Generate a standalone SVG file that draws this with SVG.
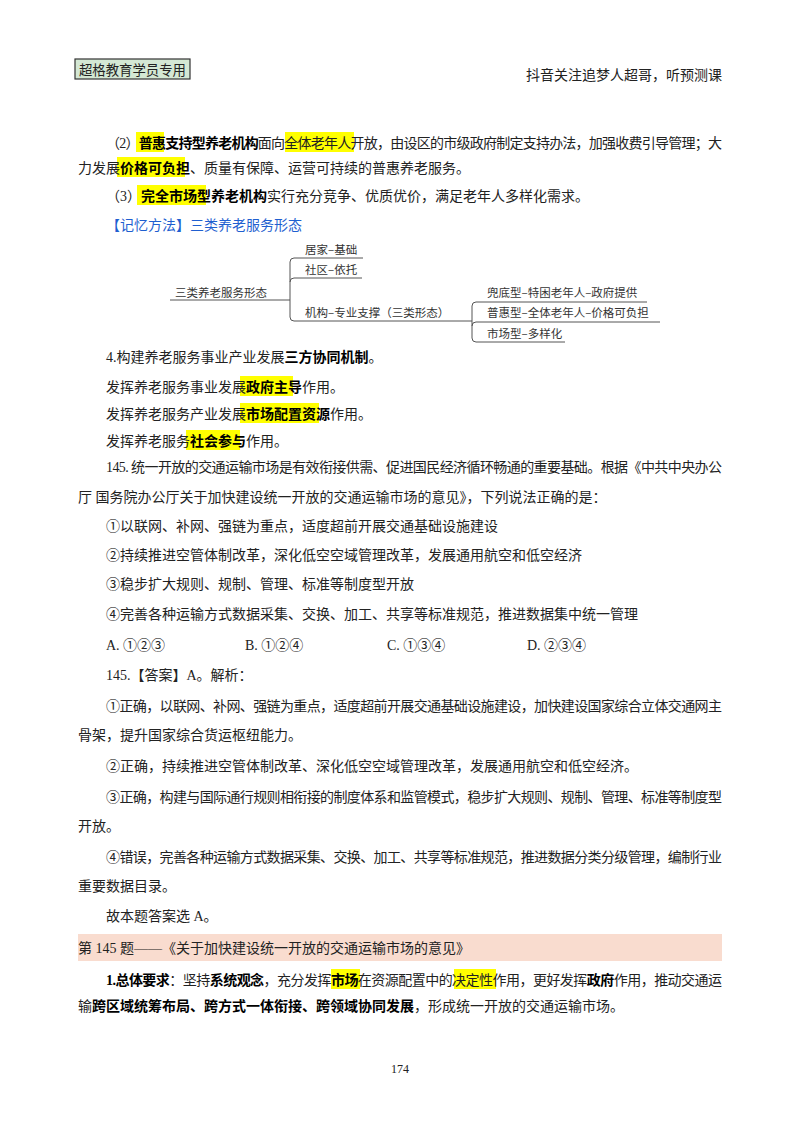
<svg xmlns="http://www.w3.org/2000/svg" width="800" height="1132" viewBox="0 0 800 1132">
<style>
text{font-family:"Liberation Serif","Noto Sans CJK SC",serif;font-size:14px;fill:#222}
.b{font-weight:bold;fill:#000}
.hl{fill:#ffff00}
.mm{font-family:"Noto Sans CJK SC","Liberation Sans",sans-serif;font-size:11.5px;fill:#333}
.ln{stroke:#555;stroke-width:1;fill:none}
.blue{fill:#1f5fd0}
</style>
<rect width="800" height="1132" fill="#fff"/>
<g id="header">
<rect x="75" y="59" width="115" height="20" fill="#d4e8d4" stroke="#333" stroke-width="1.2"/>
<text x="79" y="75" textLength="107" lengthAdjust="spacingAndGlyphs">超格教育学员专用</text>
<text x="722" y="80" text-anchor="end">抖音关注追梦人超哥，听预测课</text>
</g>
<g id="highlights">
<rect class="hl" x="136" y="132" width="28" height="20"/>
<rect class="hl" x="285" y="132" width="69" height="20"/>
<rect class="hl" x="117" y="157" width="68" height="20"/>
<rect class="hl" x="137" y="185" width="69" height="20"/>
<rect class="hl" x="240" y="376" width="53" height="20"/>
<rect class="hl" x="240" y="403" width="79" height="20"/>
<rect class="hl" x="186" y="430" width="54" height="20"/>
<rect class="hl" x="331" y="969" width="29" height="20"/>
<rect class="hl" x="454" y="969" width="42" height="20"/>
<rect x="78" y="934" width="644" height="27" fill="#f9dccf"/>
</g>
<g id="body">
<text x="106" y="148" textLength="616" lengthAdjust="spacing">（2）<tspan class="b">普惠支持型养老机构</tspan>面向全体老年人开放，由设区的市级政府制定支持办法，加强收费引导管理；大</text>
<text x="78" y="173">力发展<tspan class="b">价格可负担</tspan>、质量有保障、运营可持续的普惠养老服务。</text>
<text x="106" y="201">（3）<tspan class="b">完全市场型养老机构</tspan>实行充分竞争、优质优价，满足老年人多样化需求。</text>
<text x="106" y="230" class="blue">【记忆方法】三类养老服务形态</text>
</g>
<g id="mindmap">
<text class="mm" x="175" y="297">三类养老服务形态</text>
<text class="mm" x="305" y="254">居家–基础</text>
<text class="mm" x="305" y="274">社区–依托</text>
<text class="mm" x="305" y="317">机构–专业支撑（三类形态）</text>
<text class="mm" x="487" y="297">兜底型–特困老年人–政府提供</text>
<text class="mm" x="487" y="317">普惠型–全体老年人–价格可负担</text>
<text class="mm" x="487" y="338">市场型–多样化</text>
</g>
<g id="connectors">
<path class="ln" d="M170 300H290"/>
<path class="ln" d="M363 258H294Q290 258 290 262V317Q290 321 294 321H472"/>
<path class="ln" d="M290 282Q290 278 294 278H362"/>
<path class="ln" d="M647 302H476Q472 302 472 306V338Q472 342 476 342H565"/>
<path class="ln" d="M472 326Q472 322 476 322H660"/>
</g>
<g id="body2">
<text x="106" y="362">4.构建养老服务事业产业发展<tspan class="b">三方协同机制</tspan>。</text>
<text x="106" y="392">发挥养老服务事业发展<tspan class="b">政府主导</tspan>作用。</text>
<text x="106" y="419">发挥养老服务产业发展<tspan class="b">市场配置资源</tspan>作用。</text>
<text x="106" y="446">发挥养老服务<tspan class="b">社会参与</tspan>作用。</text>
<text x="106" y="472" textLength="616" lengthAdjust="spacing">145. 统一开放的交通运输市场是有效衔接供需、促进国民经济循环畅通的重要基础。根据《中共中央办公</text>
<text x="78" y="502">厅  国务院办公厅关于加快建设统一开放的交通运输市场的意见》，下列说法正确的是：</text>
<text x="106" y="531">①以联网、补网、强链为重点，适度超前开展交通基础设施建设</text>
<text x="106" y="560">②持续推进空管体制改革，深化低空空域管理改革，发展通用航空和低空经济</text>
<text x="106" y="589">③稳步扩大规则、规制、管理、标准等制度型开放</text>
<text x="106" y="619">④完善各种运输方式数据采集、交换、加工、共享等标准规范，推进数据集中统一管理</text>
<text x="106" y="650">A. ①②③</text>
<text x="245" y="650">B. ①②④</text>
<text x="387" y="650">C. ①③④</text>
<text x="527" y="650">D. ②③④</text>
<text x="106" y="680">145.【答案】A。解析：</text>
<text x="106" y="711" textLength="616" lengthAdjust="spacing">①正确，以联网、补网、强链为重点，适度超前开展交通基础设施建设，加快建设国家综合立体交通网主</text>
<text x="78" y="740">骨架，提升国家综合货运枢纽能力。</text>
<text x="106" y="771">②正确，持续推进空管体制改革、深化低空空域管理改革，发展通用航空和低空经济。</text>
<text x="106" y="802" textLength="616" lengthAdjust="spacing">③正确，构建与国际通行规则相衔接的制度体系和监管模式，稳步扩大规则、规制、管理、标准等制度型</text>
<text x="78" y="831">开放。</text>
<text x="106" y="862" textLength="616" lengthAdjust="spacing">④错误，完善各种运输方式数据采集、交换、加工、共享等标准规范，推进数据分类分级管理，编制行业</text>
<text x="78" y="891">重要数据目录。</text>
<text x="106" y="921">故本题答案选 A。</text>
<text x="78" y="953">第 145 题——《关于加快建设统一开放的交通运输市场的意见》</text>
<text x="106" y="985" textLength="616" lengthAdjust="spacing"><tspan class="b">1.总体要求</tspan>：坚持<tspan class="b">系统观念</tspan>，充分发挥<tspan class="b">市场</tspan>在资源配置中的决定性作用，更好发挥<tspan class="b">政府</tspan>作用，推动交通运</text>
<text x="78" y="1011">输<tspan class="b">跨区域统筹布局、跨方式一体衔接、跨领域协同发展</tspan>，形成统一开放的交通运输市场。</text>
<text x="400" y="1073" text-anchor="middle" style="font-size:12px">174</text>
</g>
</svg>
